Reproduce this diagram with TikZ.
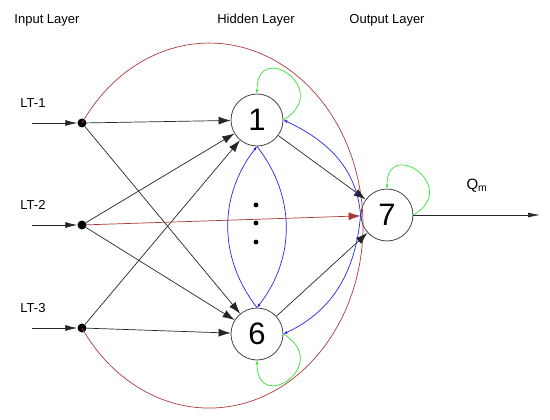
\documentclass[tikz,border=0pt]{standalone}
\usepackage{fontspec}
\setmainfont{Liberation Sans}
\usetikzlibrary{arrows.meta}
\definecolor{brick}{HTML}{A83A3A}
\definecolor{loopgreen}{HTML}{33E633}
\definecolor{linkblue}{HTML}{2424F0}
\definecolor{rim}{HTML}{444444}

\begin{document}
\begin{tikzpicture}[x=1pt,y=1pt,>=Latex,
  neuron/.style={circle,draw=rim,line width=0.8pt,minimum size=52pt,inner sep=0pt,font=\fontsize{31}{31}\selectfont},
  inp/.style={circle,fill=black,minimum size=9pt,inner sep=0pt},
  link/.style={-{Latex[length=12pt,width=8pt]},line width=0.7pt,draw=black!85},
  feed/.style={-{Latex[length=12pt,width=6pt]},line width=0.7pt,draw=black!85},
  fb/.style={-{Latex[length=4pt,width=3pt]},linkblue,line width=0.7pt},
  selfloop/.style={-{Latex[length=4pt,width=3pt]},loopgreen,line width=0.7pt},
  lbl/.style={font=\fontsize{13}{15}\selectfont}]
  \useasboundingbox (0,0) rectangle (550,-420);
  % layer titles
  \node[lbl] (tin) at (47,-20) {Input Layer};
  \node[lbl] (thid) at (256,-20) {Hidden Layer};
  \node[lbl] (tout) at (387,-20) {Output Layer};
  % inputs
  \foreach \k/\y in {1/-123,2/-225,3/-328} {
    \node[inp] (i\k) at (82,\y) {};
    \coordinate (s\k) at (32,\y);
    \node[lbl] (lt\k) at (33,\y+20) {LT-\k};
    \draw[feed] (s\k) -- (i\k);
  }
  % neurons
  \node[neuron] (h1) at (257,-120) {1};
  \node[neuron] (h6) at (257,-334) {6};
  \node[neuron] (h7) at (387,-215) {7};
  \foreach \y in {-205,-223,-242}
    \fill (256,\y) circle (2.4pt);
  % direct link round the hidden layer
  \draw[brick,line width=0.7pt] (i1.center) arc[start angle=145.8,end angle=-145.8,x radius=153.8,y radius=182.5];
  \foreach \k in {1,2,3} {
    \draw[link] (i\k) -- (h1);
    \draw[link] (i\k) -- (h6);
  }
  \draw[link,draw=brick,color=brick] (i2) -- (h7);
  \draw[link] (h1) -- (h7);
  \draw[link] (h6) -- (h7);
  % feedback
  \draw[fb] (h7.west) to[out=95,in=-25] (h1.east);
  \draw[fb] (h7.west) to[out=-95,in=25] (h6.east);
  \draw[fb] (h6.north) to[bend left=38] (h1.south);
  \draw[fb] (h1.south) to[bend left=38] (h6.north);
  \draw[selfloop] (h1.east) .. controls +(50,30) and +(0,55) .. (h1.north);
  \draw[selfloop] (h6.east) .. controls +(50,-30) and +(0,-55) .. (h6.south);
  \draw[selfloop] (h7.east) .. controls +(48,28) and +(0,52) .. (h7.north);
  % output
  \coordinate (q) at (540,-215);
  \draw[link,-{Latex[length=12pt,width=5pt]}] (h7) -- (q);
  \node[lbl,font=\fontsize{15}{17}\selectfont] (qm) at (477,-186) {Q\textsubscript{m}};
\end{tikzpicture}
\end{document}
